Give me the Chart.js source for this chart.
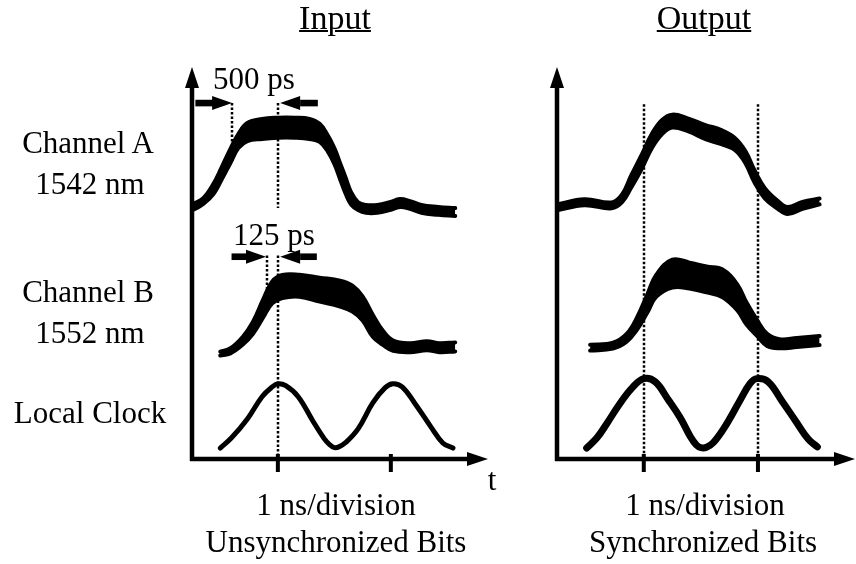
<!DOCTYPE html>
<html>
<head>
<meta charset="utf-8">
<script src="https://cdn.jsdelivr.net/npm/chart.js@4.4.1/dist/chart.umd.min.js"></script>
<style>
body { margin: 0; background: #fff; }
#page { position: relative; width: 856px; height: 564px; overflow: hidden; font-family: "Liberation Serif", "Times New Roman", serif; color: #000; }
canvas { position: absolute; left: 0; top: 0; }
.lbl { position: absolute; width: 300px; text-align: center; font-size: 31px; line-height: 31px; white-space: nowrap; }
.ttl { font-size: 34px; line-height: 34px; text-decoration: underline; text-decoration-thickness: 2px; }
</style>
</head>
<body>
<div id="page">
  <canvas id="inChart" width="856" height="564"></canvas>
  <canvas id="outChart" width="856" height="564"></canvas>

  <div class="lbl ttl" style="left:185px;top:1px">Input</div>
  <div class="lbl ttl" style="left:554px;top:1px">Output</div>
  <div class="lbl" style="left:-62px;top:127px">Channel A</div>
  <div class="lbl" style="left:-60px;top:168px">1542 nm</div>
  <div class="lbl" style="left:-62px;top:276px">Channel B</div>
  <div class="lbl" style="left:-60px;top:317px">1552 nm</div>
  <div class="lbl" style="left:-60px;top:397px">Local Clock</div>
  <div class="lbl" style="left:104px;top:63px">500 ps</div>
  <div class="lbl" style="left:124px;top:219px">125 ps</div>
  <div class="lbl" style="left:342px;top:464px">t</div>
  <div class="lbl" style="left:186px;top:489px">1 ns/division</div>
  <div class="lbl" style="left:186px;top:526px">Unsynchronized Bits</div>
  <div class="lbl" style="left:555px;top:489px">1 ns/division</div>
  <div class="lbl" style="left:553px;top:526px">Synchronized Bits</div>
</div>
<script>
// time in ns, signal in arbitrary units (0 = time axis), band = trace noise width
const tickTimes = [1, 2];

// Input (unsynchronized)
const inChA_t = [0.25, 0.34, 0.43, 0.50, 0.58, 0.65, 0.73, 0.86, 1.00, 1.15, 1.28, 1.37, 1.44, 1.50, 1.55, 1.60, 1.65, 1.71, 1.78, 1.88, 1.99, 2.08, 2.17, 2.27, 2.42, 2.57];
const inChA = [64.3, 65.8, 68.9, 72.7, 77.3, 81.1, 83.4, 84.2, 84.5, 84.5, 84.2, 83.2, 80.6, 77.3, 73.5, 69.7, 66.4, 64.5, 63.8, 63.8, 64.5, 65.3, 64.8, 63.8, 63.3, 63.0];
const inChA_band = [1.5, 1.5, 2.6, 3.1, 3.6, 3.6, 4.6, 5.1, 5.1, 5.1, 5.1, 4.6, 4.1, 4.1, 4.1, 4.1, 3.1, 2.0, 2.0, 2.0, 2.0, 2.0, 2.0, 2.0, 2.0, 2.0];

const inChB_t = [0.49, 0.58, 0.69, 0.78, 0.87, 0.95, 1.04, 1.19, 1.37, 1.55, 1.66, 1.75, 1.84, 1.93, 2.02, 2.17, 2.32, 2.43, 2.57];
const inChB = [26.9, 27.6, 30.2, 33.5, 38.4, 42.5, 44.0, 44.2, 43.2, 42.2, 40.9, 38.4, 34.0, 30.9, 28.9, 28.4, 28.9, 28.4, 28.6];
const inChB_band = [1.0, 1.3, 2.0, 3.1, 4.6, 5.6, 5.9, 5.6, 6.1, 6.6, 6.6, 6.1, 5.6, 3.6, 2.6, 2.3, 2.3, 2.3, 2.3];

const inClk_t = [0.49, 0.59, 0.73, 0.86, 0.95, 1.00, 1.07, 1.18, 1.31, 1.41, 1.46, 1.50, 1.54, 1.60, 1.71, 1.84, 1.95, 2.02, 2.10, 2.21, 2.35, 2.46, 2.55];
const inClk = [2.8, 5.4, 10.2, 15.9, 18.4, 19.2, 18.7, 15.9, 9.7, 5.2, 3.6, 2.9, 3.1, 4.2, 7.7, 14.3, 18.2, 19.2, 18.4, 14.3, 8.4, 4.1, 2.8];

// Output (synchronized)
const outChA_t = [0.24, 0.48, 0.72, 0.81, 0.89, 0.98, 1.07, 1.16, 1.25, 1.39, 1.54, 1.68, 1.80, 1.89, 1.97, 2.06, 2.18, 2.26, 2.39, 2.54];
const outChA = [64.2, 65.5, 64.7, 66.5, 70.8, 75.7, 81.1, 84.7, 86.2, 85.2, 83.4, 82.1, 80.3, 77.0, 72.1, 67.8, 64.7, 63.4, 64.7, 65.7];
const outChA_band = [1.5, 1.5, 1.5, 2.0, 3.1, 3.6, 3.6, 3.6, 3.3, 3.3, 3.6, 3.6, 3.1, 3.1, 3.1, 2.6, 2.0, 1.8, 1.8, 1.5];

const outChB_t = [0.53, 0.73, 0.85, 0.94, 1.03, 1.11, 1.25, 1.40, 1.55, 1.69, 1.82, 1.90, 1.99, 2.08, 2.19, 2.34, 2.54];
const outChB = [28.4, 28.9, 30.9, 34.5, 39.6, 44.2, 47.3, 46.8, 45.8, 44.8, 41.2, 37.1, 33.5, 30.4, 29.4, 29.7, 30.2];
const outChB_band = [1.5, 1.5, 2.0, 3.1, 4.6, 5.6, 7.1, 6.6, 6.6, 7.1, 6.6, 5.6, 4.1, 3.1, 2.3, 2.3, 2.3];

const outClk_t = [0.50, 0.59, 0.68, 0.79, 0.90, 1.00, 1.10, 1.21, 1.32, 1.41, 1.46, 1.50, 1.55, 1.61, 1.71, 1.84, 1.93, 1.99, 2.09, 2.21, 2.33, 2.44, 2.52];
const outClk = [2.8, 5.4, 9.2, 14.1, 18.2, 20.5, 19.7, 15.3, 10.5, 5.6, 3.6, 2.9, 3.0, 4.2, 8.2, 14.8, 19.2, 20.5, 19.7, 14.8, 9.7, 5.1, 3.1];

const traceStyle = {
    borderColor: '#000',
    borderWidth: 4,
    pointRadius: 0,
    tension: 0.4,
    borderJoinStyle: 'round',
    borderCapStyle: 'round',
    clip: false
};

// noisy trace -> upper edge + lower edge filled in between
function bandSets(ts, level, band) {
    const up = ts.map((t, i) => ({ x: t, y: level[i] + band[i] / 2 }));
    const lo = ts.map((t, i) => ({ x: t, y: level[i] - band[i] / 2 }));
    return [
        { ...traceStyle, data: up, fill: false },
        { ...traceStyle, data: lo, fill: '-1', backgroundColor: '#000' }
    ];
}

function clockSet(ts, level, width) {
    return { ...traceStyle, borderWidth: width, fill: false, data: ts.map((t, i) => ({ x: t, y: level[i] })) };
}

function arrow(ctx, x0, x1, y) {
    const dir = x1 > x0 ? 1 : -1;
    const head = 20;
    ctx.fillRect(Math.min(x0, x1 - dir * head), y - 3.3, Math.abs(x1 - dir * head - x0) + 1, 6.6);
    ctx.beginPath();
    ctx.moveTo(x1, y);
    ctx.lineTo(x1 - dir * head, y - 7);
    ctx.lineTo(x1 - dir * head, y + 7);
    ctx.closePath();
    ctx.fill();
}

const scopePlugin = {
    id: 'scope',
    afterDatasetsDraw(chart, args, o) {
        const { ctx, chartArea: a, scales: { x, y } } = chart;
        ctx.save();
        ctx.fillStyle = '#000';
        ctx.strokeStyle = '#000';

        // dotted guide lines
        ctx.lineWidth = 2.5;
        ctx.setLineDash([2.5, 2]);
        (o.guides || []).forEach(g => {
            const px = Math.round(x.getPixelForValue(g.t));
            ctx.beginPath();
            ctx.moveTo(px, y.getPixelForValue(g.from));
            ctx.lineTo(px, y.getPixelForValue(g.to));
            ctx.stroke();
        });
        ctx.setLineDash([]);

        // axes with arrow heads
        ctx.lineWidth = 4.5;
        ctx.beginPath();
        ctx.moveTo(a.left, a.bottom + 2);
        ctx.lineTo(a.left, a.top + 18);
        ctx.moveTo(a.left - 2, a.bottom);
        ctx.lineTo(a.right - 18, a.bottom);
        ctx.stroke();
        ctx.beginPath();
        ctx.moveTo(a.left, a.top);
        ctx.lineTo(a.left - 7, a.top + 21);
        ctx.lineTo(a.left + 7, a.top + 21);
        ctx.closePath();
        ctx.fill();
        ctx.beginPath();
        ctx.moveTo(a.right, a.bottom);
        ctx.lineTo(a.right - 21, a.bottom - 7);
        ctx.lineTo(a.right - 21, a.bottom + 7);
        ctx.closePath();
        ctx.fill();

        // division ticks
        ctx.lineWidth = 4;
        tickTimes.forEach(t => {
            const px = x.getPixelForValue(t);
            ctx.beginPath();
            ctx.moveTo(px, a.bottom - 5);
            ctx.lineTo(px, a.bottom + 13);
            ctx.stroke();
        });

        // interval markers
        (o.spans || []).forEach(s => {
            const py = y.getPixelForValue(s.y);
            arrow(ctx, x.getPixelForValue(s.from), x.getPixelForValue(s.to), py);
        });
        ctx.restore();
    }
};

function makeScope(id, datasets, xMin, xMax, padLeft, padRight, plug) {
    return new Chart(document.getElementById(id), {
        type: 'line',
        data: { datasets },
        options: {
            responsive: false,
            animation: false,
            events: [],
            layout: { padding: { left: padLeft, right: padRight, top: 67, bottom: 105 } },
            scales: {
                x: { type: 'linear', min: xMin, max: xMax, display: false },
                y: { type: 'linear', min: 0, max: 100, display: false }
            },
            plugins: { legend: { display: false }, tooltip: { enabled: false }, scope: plug }
        },
        plugins: [scopePlugin]
    });
}

makeScope('inChart', [
    ...bandSets(inChA_t, inChA, inChA_band),
    ...bandSets(inChB_t, inChB, inChB_band),
    clockSet(inClk_t, inClk, 5)
], 0.24, 2.86, 192, 856 - 488, {
    guides: [
        { t: 1, from: 90.8, to: 64 },
        { t: 1, from: 51.9, to: 0 },
        { t: 0.59, from: 90.8, to: 81 },
        { t: 0.90, from: 51.9, to: 40 }
    ],
    spans: [
        { from: 0.27, to: 0.595, y: 90.8 },
        { from: 1.345, to: 1.02, y: 90.8 },
        { from: 0.59, to: 0.895, y: 51.6 },
        { from: 1.336, to: 1.02, y: 51.6 }
    ]
});

makeScope('outChart', [
    ...bandSets(outChA_t, outChA, outChA_band),
    ...bandSets(outChB_t, outChB, outChB_band),
    clockSet(outClk_t, outClk, 7)
], 0.24, 2.85, 557, 1, {
    guides: [
        { t: 1, from: 90.5, to: 0 },
        { t: 2, from: 90.5, to: 0 }
    ],
    spans: []
});
</script>
</body>
</html>
